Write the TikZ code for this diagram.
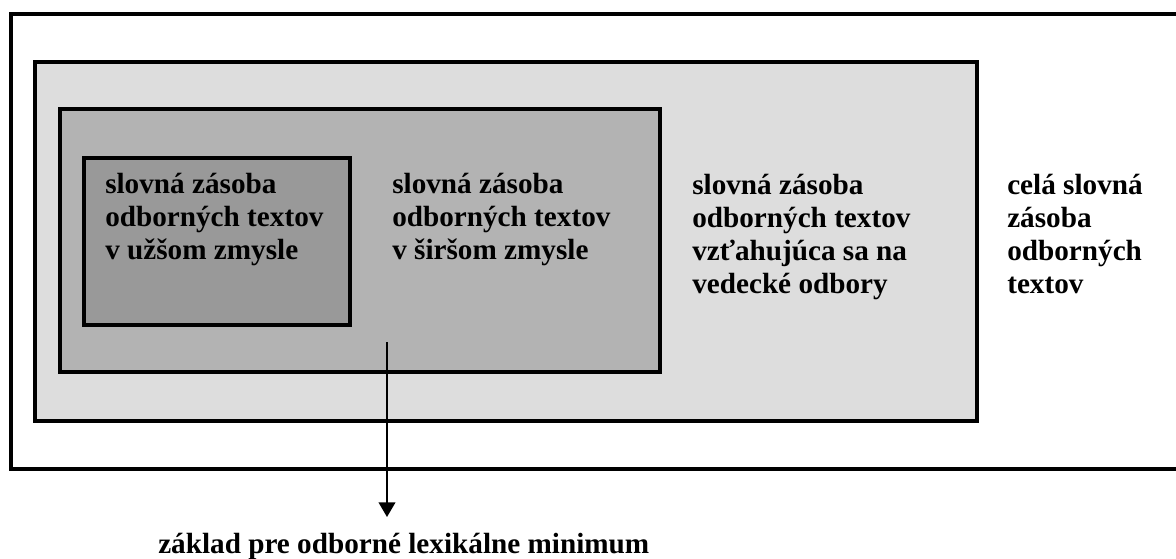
\documentclass[tikz,border=0pt]{standalone}
\usepackage{fontspec}
\setmainfont{Liberation Serif}
\usetikzlibrary{arrows.meta}
\definecolor{wholefill}{HTML}{DDDDDD}
\definecolor{widefill}{HTML}{B3B3B3}
\definecolor{narrowfill}{HTML}{999999}
\tikzset{
  box/.style={draw=black, line width=3pt},
  boxtext/.style={anchor=base west, inner sep=0pt, align=left,
    font=\fontsize{21.9}{24.75}\selectfont\bfseries},
  arr/.style={line width=1.4pt, -{Triangle[width=12.5pt, length=11pt]}}
}

\begin{document}
\begin{tikzpicture}[x=0.75pt, y=-0.75pt]
      \useasboundingbox (0,0) rectangle (1176,558);

      % Outer frame, open on the right
      \draw[line width=3pt] (1180,13.5) -- (11,13.5) -- (11,469) -- (1180,469);

      % Box for the vocabulary of scientific fields
      \filldraw[box, fill=wholefill] (35,62) rectangle (977,421);

      % Box for the wider sense
      \filldraw[box, fill=widefill] (60,109) rectangle (660,372);

      % Box for the narrower sense
      \filldraw[box, fill=narrowfill] (83.5,157.5) rectangle (350,325);

      % Texts (anchored at the baseline of their last line)
      \node[boxtext] (narrow) at (105,259.5) {slovná zásoba\\odborných textov\\v užšom zmysle};
      \node[boxtext] (wide) at (392,259.5) {slovná zásoba\\odborných textov\\v širšom zmysle};
      \node[boxtext] (fields) at (692,293) {slovná zásoba\\odborných textov\\vzťahujúca sa na\\vedecké odbory};
      \node[boxtext] (all) at (1007,293) {celá slovná\\zásoba\\odborných\\textov};

      % Arrow to the minimum
      \coordinate (src) at (387,342);
      \coordinate (tip) at (387,517);
      \draw[arr] (src) -- (tip);
      \node[boxtext] (minimum) at (158,553) {základ pre odborné lexikálne minimum};
\end{tikzpicture}
\end{document}
